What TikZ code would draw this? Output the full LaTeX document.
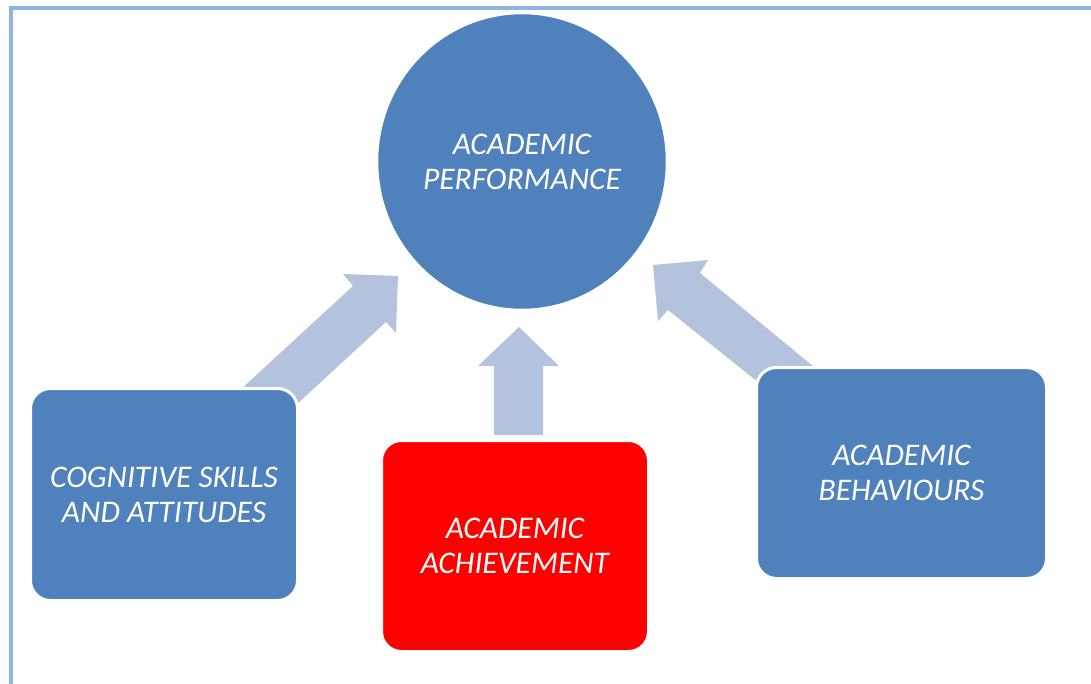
\documentclass[tikz,border=0pt]{standalone}
\usepackage{fontspec}
\setmainfont{Carlito}
\usetikzlibrary{shapes.geometric}
\definecolor{boxblue}{HTML}{4F81BD}
\definecolor{arrowblue}{HTML}{B3C2DD}
\definecolor{framebl}{HTML}{8DB4E2}
\definecolor{achred}{HTML}{FF0000}
\tikzset{
  lbl/.style={text=white, font=\fontsize{31.5}{35}\selectfont\itshape, align=center},
  boxnode/.style={lbl, draw=white, line width=3pt, rounded corners=20pt, inner sep=0pt},
  blockarrow/.style={fill=arrowblue, draw=none},
}
\begin{document}
\begin{tikzpicture}[x=1pt,y=-1pt]
\useasboundingbox (0,0) rectangle (1091,684);
% frame lines
\fill[framebl] (9,6) rectangle (1091,10);
\fill[framebl] (9,6) rectangle (13,684);
% block arrows
\fill[blockarrow] (226,403) -- (353,286) -- (343,274) -- (398,276) -- (396,333) -- (386,322) -- (258,440) -- cycle;
\fill[blockarrow] (494,435) -- (494,366) -- (478,366) -- (519,327) -- (559,366) -- (543,366) -- (543,435) -- cycle;
\fill[blockarrow] (653,265) -- (708,260) -- (700,273) -- (831,381) -- (784,403) -- (668,310) -- (658,321) -- cycle;
% circle
\node[lbl, ellipse, fill=boxblue, draw=white, line width=3.5pt, minimum width=291pt, minimum height=298pt, inner sep=0pt] (perf) at (522,161.5) {ACADEMIC\\PERFORMANCE};
% boxes
\node[boxnode, fill=boxblue, minimum width=267pt, minimum height=212pt] (cog) at (164,494.5) {COGNITIVE SKILLS\\AND ATTITUDES};
\node[boxnode, fill=achred, minimum width=267pt, minimum height=211pt] (ach) at (515,546) {ACADEMIC\\ACHIEVEMENT};
\node[boxnode, fill=boxblue, minimum width=290pt, minimum height=211pt] (beh) at (901.5,473) {ACADEMIC\\BEHAVIOURS};
\end{tikzpicture}
\end{document}
